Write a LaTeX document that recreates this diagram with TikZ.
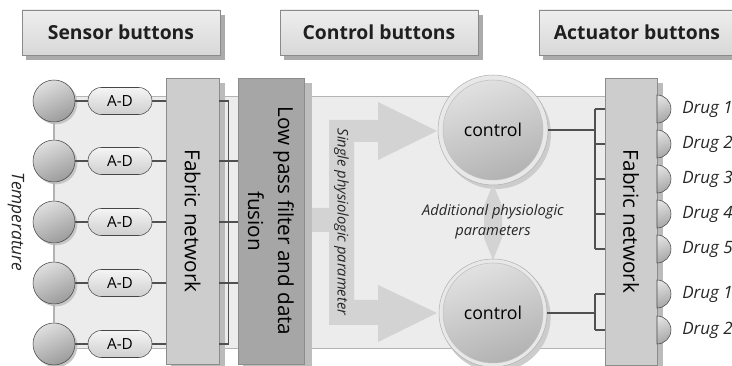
\documentclass[tikz,border=0pt]{standalone}
\usepackage{fontspec}
\setmainfont{Open Sans}
\definecolor{hdrtop}{HTML}{EEEEEE}
\definecolor{hdrbot}{HTML}{D8D8D8}
\definecolor{hdrline}{HTML}{8A8A8A}
\definecolor{shadowgray}{HTML}{ABABAB}
\definecolor{panelfill}{HTML}{ECECEC}
\definecolor{panelline}{HTML}{B4B4B4}
\definecolor{fabfill}{HTML}{CDCDCD}
\definecolor{fabline}{HTML}{8C8C8C}
\definecolor{fabshadow}{HTML}{BBBBBB}
\definecolor{lpfill}{HTML}{A6A6A6}
\definecolor{lpshadow}{HTML}{BDBDBD}
\definecolor{arrowfill}{HTML}{D3D3D3}
\definecolor{linegray}{HTML}{505050}
\begin{document}
\begin{tikzpicture}[x=0.75pt,y=-0.75pt,
  conn/.style={draw=linegray, line width=0.8pt},
  hdr/.style={draw=hdrline, top color=hdrtop, bottom color=hdrbot, minimum height=33.75pt, inner sep=0pt, font=\bfseries\fontsize{14.5}{17}\selectfont, text=black!88},
  sensor/.style={circle, minimum size=31.5pt, inner sep=0pt, draw=gray!55!black, top color=gray!25, bottom color=gray!78, shading angle=25},
  pill/.style={rectangle, rounded corners=10pt, minimum width=48pt, minimum height=20.25pt, inner sep=0pt, draw=gray!55!black, top color=gray!8, bottom color=gray!38, font=\fontsize{11.5}{13}\selectfont},
  fabric/.style={rectangle, draw=fabline, fill=fabfill, inner sep=0pt, rotate=-90, font=\fontsize{15.5}{18}\selectfont},
  lowpass/.style={rectangle, draw=fabline, fill=lpfill, inner sep=0pt, rotate=-90, align=center, font=\fontsize{15.5}{22.5}\selectfont},
  ctrl/.style={circle, minimum size=82.5pt, inner sep=0pt, draw=gray!60, fill=gray!18, font=\fontsize{13.3}{15}\selectfont,
    path picture={\shade[top color=gray!22, bottom color=gray!62, shading angle=20, draw=gray!50] (path picture bounding box.center) circle (37.5pt);}},
  drugcap/.style={draw=gray!55!black, top color=gray!25, bottom color=gray!70, shading angle=20},
  itext/.style={font=\itshape\fontsize{11}{15}\selectfont, text=black!85},
  druglabel/.style={anchor=west, inner sep=0pt, font=\itshape\fontsize{12.75}{15}\selectfont, text=black!85}
]
\useasboundingbox (0,0) rectangle (732,366);
\clip (0,0) rectangle (732,366);

% headers
\fill[shadowgray] (26,15) rectangle (225,60);
\node[hdr, minimum width=148.5pt] (hs) at (121,32.5) {Sensor buttons};
\fill[shadowgray] (284,15) rectangle (483,60);
\node[hdr, minimum width=148.5pt] (hc) at (379,32.5) {Control buttons};
\fill[shadowgray] (543,15) rectangle (740,60);
\node[hdr, minimum width=147pt] (ha) at (637,32.5) {Actuator buttons};

% background panel
\draw[panelline, fill=panelfill] (54,96) rectangle (605,348);

% big arrow (single physiologic parameter)
\fill[arrowfill] (304,208) -- (329,208) -- (329,120) -- (378,120) -- (378,102) -- (437,131)
  -- (378,160) -- (378,142) -- (354,142) -- (354,300) -- (378,300) -- (378,285) -- (437,313)
  -- (378,342) -- (378,325) -- (329,325) -- (329,232) -- (304,232) -- cycle;
\node[itext, rotate=-90] (spp) at (341.5,222) {Single physiologic parameter};

% left fabric and low pass boxes
\fill[fabshadow] (171,83) rectangle (225,370);
\node[fabric, minimum width=214.5pt, minimum height=39.75pt] (fabL) at (192.5,221) {Fabric network};
\fill[lpshadow] (243,83) rectangle (312,370);
\node[lowpass, minimum width=214.5pt, minimum height=49.5pt] (lp) at (271,221) {Low pass filter and data\\fusion};

% sensors and A-D converters
\foreach \y [count=\i] in {101,161,222,283,344} {
  \fill[gray!45] (56,\y+2) circle (16pt);
  \node[sensor] (s\i) at (54,\y) {};
  \node[pill] (ad\i) at (120,\y) {A-D};
  \draw[conn] (s\i.east) -- (ad\i.west);
  \draw[conn] (ad\i.east) -- (ad\i.east -| fabL.south);
}
\foreach \i/\j in {1/2,2/3,3/4,4/5} { \draw[draw=gray!60, line width=0.8pt] (s\i.south) -- (s\j.north); }
\draw[conn] (fabL.north |- ad1) -- ++(9,0) |- (fabL.north |- ad5);
\foreach \i in {2,3,4} { \draw[conn] (fabL.north |- ad\i) -- (lp.south |- ad\i); }

% control circles
\fill[gray!40] (496,134) circle (41.25pt);
\fill[gray!40] (496,317) circle (41pt);
\fill[arrowfill] (493,184) -- (502,206) -- (502,238) -- (493,260) -- (484,238) -- (484,206) -- cycle;
\node[ctrl] (c1) at (493,130) {control};
\node[ctrl, minimum size=81pt] (c2) at (493,313) {control};
\node[itext, align=center] (app) at (493,222) {Additional physiologic\\parameters};

% right fabric
\fill[fabshadow] (610,83) rectangle (663,370);
\node[fabric, minimum width=215.25pt, minimum height=39pt] (fabR) at (631,221.5) {Fabric network};

% actuators
\foreach \y/\t [count=\k] in {109/1,144/2,179/3,214/4,249/5,294/1,330/2} {
  \coordinate (dy\k) at (657,\y);
  \path[drugcap] (657,\y-14) arc[start angle=90, end angle=-90, radius=10.5pt] -- cycle;
  \node[druglabel] (dl\k) at (682,\y) {Drug \t};
}
\coordinate (b1) at (595,130);
\coordinate (b2) at (595,313);
\draw[conn] (c1.east) -- (b1);
\draw[conn] (c2.east) -- (b2);
\draw[conn] (dy1 -| b1) -- (dy5 -| b1);
\draw[conn] (dy6 -| b2) -- (dy7 -| b2);
\foreach \k in {1,...,7} { \draw[conn] (dy\k -| b1) -- (dy\k -| fabR.south); }

% temperature
\node[druglabel, anchor=center, rotate=-90, font=\itshape\fontsize{13}{15}\selectfont] (temp) at (16,222) {Temperature};
\end{tikzpicture}
\end{document}
